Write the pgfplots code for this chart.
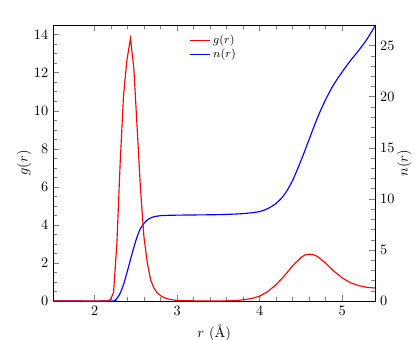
\documentclass[border=0pt]{standalone}
\usepackage{pgfplots}
\pgfplotsset{compat=1.18}

\pgfplotstableread{
r g
1.50 0
2.15 0
2.18 0.05
2.20 0.15
2.23 0.45
2.27 3.0
2.31 7.25
2.35 10.75
2.39 12.6
2.435 13.8
2.476 12.2
2.517 9.0
2.557 5.84
2.598 3.38
2.64 1.98
2.68 1.1
2.72 0.68
2.76 0.42
2.82 0.22
2.88 0.12
2.95 0.06
3.00 0.03
3.20 0.01
3.50 0.00
3.70 0.02
3.80 0.06
3.90 0.13
4.00 0.25
4.10 0.50
4.20 0.86
4.30 1.32
4.40 1.85
4.50 2.28
4.55 2.42
4.60 2.46
4.65 2.44
4.70 2.34
4.80 2.00
4.90 1.57
5.00 1.22
5.10 0.96
5.20 0.81
5.30 0.72
5.40 0.68
}\gdata

\pgfplotstableread{
r n
1.50 0
2.20 0
2.25 0.1
2.30 0.6
2.35 1.6
2.40 3.0
2.45 4.5
2.50 5.9
2.55 7.0
2.60 7.6
2.65 8.0
2.70 8.2
2.80 8.35
3.00 8.40
3.50 8.45
3.80 8.55
4.00 8.75
4.10 9.05
4.20 9.55
4.30 10.4
4.40 11.8
4.50 13.7
4.60 15.8
4.70 17.9
4.80 19.7
4.90 21.2
5.00 22.4
5.10 23.5
5.20 24.5
5.30 25.6
5.40 26.9
}\ndata

\begin{document}
\begin{tikzpicture}
\begin{axis}[
  scale only axis, width=225pt, height=193pt,
  xmin=1.5, xmax=5.4, ymin=0, ymax=27,
  axis x line=none, axis y line*=right,
  ytick={0,5,...,25}, minor y tick num=4,
  ylabel={$n(r)$}, ylabel shift=-5pt,
]
\addplot[blue, line width=0.8pt, no marks, smooth] table[x=r, y=n] {\ndata};
\end{axis}
\begin{axis}[
  scale only axis, width=225pt, height=193pt,
  xmin=1.5, xmax=5.4, ymin=0, ymax=14.5,
  xtick={2,3,4,5}, ytick={0,2,...,14},
  minor x tick num=4, minor y tick num=3,
  xtick pos=both, ytick pos=left,
  xlabel={$r$ (\AA)}, ylabel={$g(r)$},
  ylabel shift=-5pt,
  legend style={draw=white, fill=white, at={(0.5,0.985)}, anchor=north,
    font=\footnotesize, row sep=-2pt},
  legend image post style={xscale=0.8},
  legend cell align=left,
]
\addplot[red, line width=0.8pt, no marks] table[x=r, y=g] {\gdata};
\addlegendentry{$g(r)$}
\addlegendimage{blue, line width=0.8pt, no marks}
\addlegendentry{$n(r)$}
\end{axis}
\pgfresetboundingbox
\path (-37.3pt,-26.6pt) rectangle (252.9pt,210.5pt);
\end{tikzpicture}
\end{document}
